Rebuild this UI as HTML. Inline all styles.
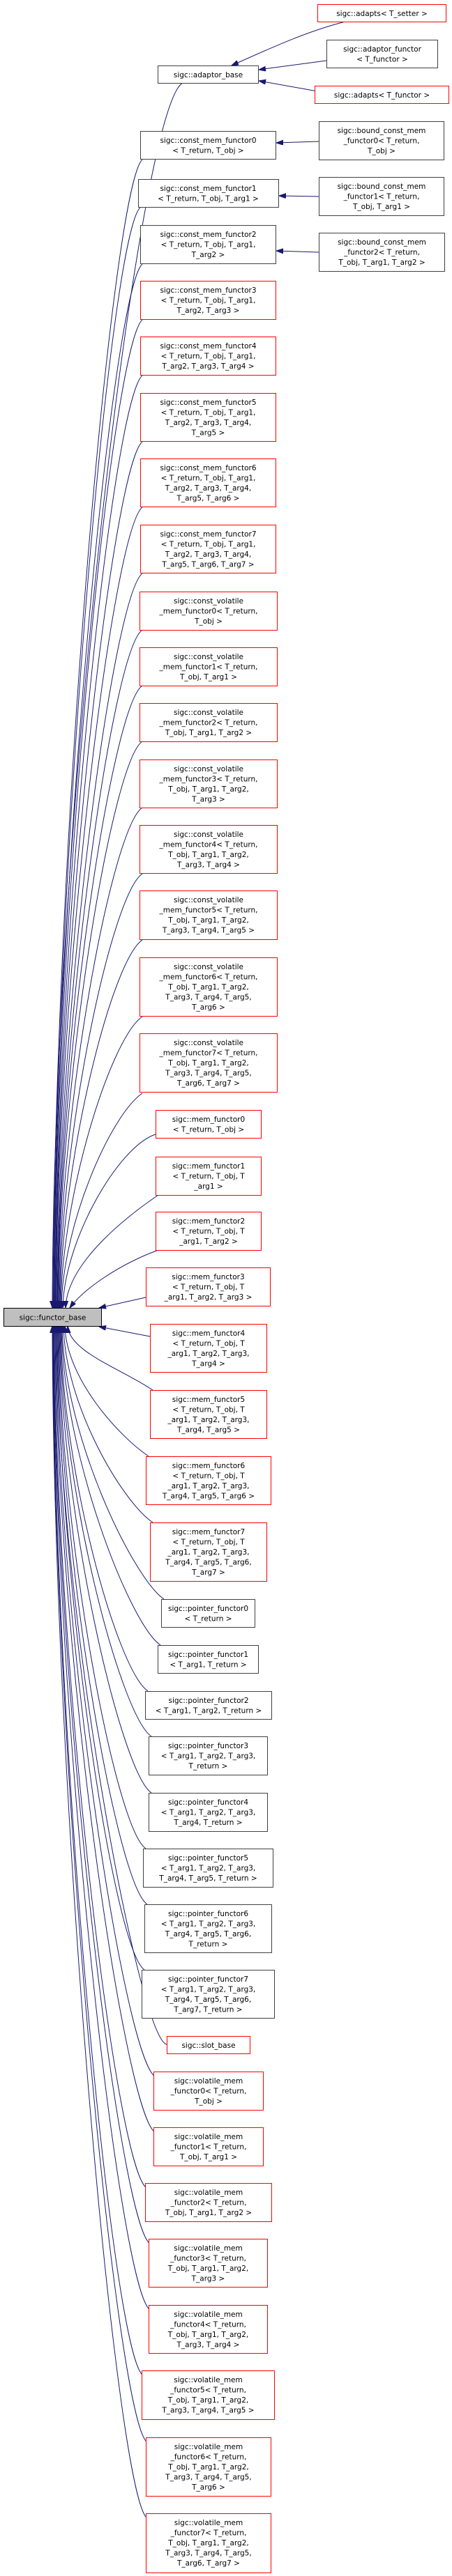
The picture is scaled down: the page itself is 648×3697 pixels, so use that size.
<!DOCTYPE html>
<html><head><meta charset="utf-8">
<style>
html,body{margin:0;padding:0;background:#fff;}
svg{display:block;}
text{font-family:"DejaVu Sans","Liberation Sans",sans-serif;font-size:10.5px;fill:#000;text-anchor:middle;}
.r{fill:#fff;stroke:#ff0000;stroke-width:1;}
.b{fill:#fff;stroke:#404040;stroke-width:1;}
.e{fill:none;stroke:#191970;stroke-width:1;marker-end:url(#ah);}
</style></head><body>
<svg width="648" height="3697" viewBox="0 0 648 3697" xmlns="http://www.w3.org/2000/svg">
<defs><marker id="ah" markerUnits="userSpaceOnUse" markerWidth="11" markerHeight="8" refX="10" refY="3.5" orient="auto"><path d="M0,0 L10,3.5 L0,7 z" fill="#191970" stroke="#191970"/></marker></defs>

<!-- edges -->
<path class="e" d="M495,31 C440,45 390,68 332,94"/>
<path class="e" d="M468,87 L371,100"/>
<path class="e" d="M455,131 L371,116"/>
<path class="e" d="M457,203 L396,205"/>
<path class="e" d="M457,282 L400,281"/>
<path class="e" d="M457,362 L396,360"/>

<path class="e" d="M262,119 C200,150 77,1174 75,1877"/>
<path class="e" d="M205,228 C161,258 78,1217 76,1877"/>
<path class="e" d="M202,297 C158,327 79,1245 77,1877"/>
<path class="e" d="M205,378 C161,408 79.5,1277 77.5,1877"/>
<path class="e" d="M205,458 C161,488 80,1309 78,1877"/>
<path class="e" d="M205,538 C161,568 81,1341 79,1877"/>
<path class="e" d="M205,633 C161,663 81.5,1379 79.5,1877"/>
<path class="e" d="M205,727 C161,757 82,1417 80,1877"/>
<path class="e" d="M205,822 C161,852 83,1455 81,1877"/>
<path class="e" d="M204,904 C160,934 84,1488 82,1877"/>
<path class="e" d="M204,984 C160,1014 84.5,1520 82.5,1877"/>
<path class="e" d="M204,1064 C160,1094 85,1552 83,1877"/>
<path class="e" d="M204,1159 C160,1189 86,1590 84,1877"/>
<path class="e" d="M204,1254 C160,1284 87,1628 85,1877"/>
<path class="e" d="M204,1349 C160,1379 88,1666 86,1877"/>
<path class="e" d="M204,1459 C160,1489 89,1710 87,1877"/>
<path class="e" d="M204,1569 C160,1599 90,1754 88,1877"/>
<path class="e" d="M223,1628 C170,1645 92,1780 90,1877"/>
<path class="e" d="M227,1715 C183,1745 96,1812 94,1877"/>
<path class="e" d="M227,1794 C170,1815 120,1850 100,1877"/>
<path class="e" d="M209,1862 L142,1877"/>

<path class="e" d="M215,1918 L142,1904"/>
<path class="e" d="M219,1995 C175,1965 99,1940 97,1903"/>
<path class="e" d="M213,2090 C169,2060 95,1978 93,1903"/>
<path class="e" d="M219,2185 C175,2155 93,2016 91,1903"/>
<path class="e" d="M235,2295 C191,2265 91,2060 89,1903"/>
<path class="e" d="M230,2361 C186,2331 90,2086 88,1903"/>
<path class="e" d="M212,2427 C168,2397 89,2113 87,1903"/>
<path class="e" d="M217,2492 C173,2462 88,2139 86,1903"/>
<path class="e" d="M217,2573 C173,2543 87,2171 85,1903"/>
<path class="e" d="M209,2653 C165,2623 86,2203 84,1903"/>
<path class="e" d="M211,2733 C167,2703 85,2235 83,1903"/>
<path class="e" d="M207,2827 C163,2797 84,2273 82,1903"/>
<path class="e" d="M239,2934 C200,2928 83,2315 81,1903"/>
<path class="e" d="M222,2980 C178,2950 82,2331 80,1903"/>
<path class="e" d="M222,3060 C178,3030 81,2363 79,1903"/>
<path class="e" d="M210,3140 C166,3110 80,2395 78,1903"/>
<path class="e" d="M215,3220 C171,3190 79,2427 77,1903"/>
<path class="e" d="M215,3315 C171,3285 78.5,2465 76.5,1903"/>
<path class="e" d="M205,3409 C161,3379 78,2503 76,1903"/>
<path class="e" d="M211,3505 C167,3475 77.5,2541 75.5,1903"/>
<path class="e" d="M211,3614 C167,3584 77,2585 75,1903"/>

<!-- functor_base -->
<rect x="5.5" y="1877.5" width="140" height="26" fill="#bfbfbf" stroke="#000"/>
<text x="75.5" y="1894.5">sigc::functor_base</text>

<!-- right column -->
<rect class="r" x="455.5" y="6.5" width="184" height="25"/>
<text x="547.5" y="23">sigc::adapts&lt; T_setter &gt;</text>
<rect class="b" x="468.5" y="57.5" width="159" height="40"/>
<text x="548" y="74"><tspan x="548">sigc::adaptor_functor</tspan><tspan x="548" dy="14.5">&lt; T_functor &gt;</tspan></text>
<rect class="r" x="451.5" y="123.5" width="192" height="25"/>
<text x="547.5" y="140">sigc::adapts&lt; T_functor &gt;</text>
<rect class="b" x="457.5" y="174.5" width="179" height="55"/>
<text x="547" y="191"><tspan x="547">sigc::bound_const_mem</tspan><tspan x="547" dy="14.5">_functor0&lt; T_return,</tspan><tspan x="547" dy="14.5">T_obj &gt;</tspan></text>
<rect class="b" x="457.5" y="254.5" width="179" height="55"/>
<text x="547" y="271"><tspan x="547">sigc::bound_const_mem</tspan><tspan x="547" dy="14.5">_functor1&lt; T_return,</tspan><tspan x="547" dy="14.5">T_obj, T_arg1 &gt;</tspan></text>
<rect class="b" x="457.5" y="334.5" width="180" height="55"/>
<text x="547.5" y="351"><tspan x="547.5">sigc::bound_const_mem</tspan><tspan x="547.5" dy="14.5">_functor2&lt; T_return,</tspan><tspan x="547.5" dy="14.5">T_obj, T_arg1, T_arg2 &gt;</tspan></text>

<!-- middle column -->
<rect class="b" x="226.5" y="94.5" width="144" height="25"/>
<text x="298.5" y="111">sigc::adaptor_base</text>

<rect class="b" x="201.5" y="188.5" width="194" height="40"/>
<text x="298.5" y="205"><tspan x="298.5">sigc::const_mem_functor0</tspan><tspan x="298.5" dy="14.5">&lt; T_return, T_obj &gt;</tspan></text>
<rect class="b" x="198.5" y="257.5" width="201" height="40"/>
<text x="298.5" y="274"><tspan x="298.5">sigc::const_mem_functor1</tspan><tspan x="298.5" dy="14.5">&lt; T_return, T_obj, T_arg1 &gt;</tspan></text>
<rect class="b" x="201.5" y="323.5" width="194" height="55"/>
<text x="298.5" y="340"><tspan x="298.5">sigc::const_mem_functor2</tspan><tspan x="298.5" dy="14.5">&lt; T_return, T_obj, T_arg1,</tspan><tspan x="298.5" dy="14.5">T_arg2 &gt;</tspan></text>
<rect class="r" x="201.5" y="403.5" width="194" height="55"/>
<text x="298.5" y="420"><tspan x="298.5">sigc::const_mem_functor3</tspan><tspan x="298.5" dy="14.5">&lt; T_return, T_obj, T_arg1,</tspan><tspan x="298.5" dy="14.5">T_arg2, T_arg3 &gt;</tspan></text>
<rect class="r" x="201.5" y="483.5" width="194" height="55"/>
<text x="298.5" y="500"><tspan x="298.5">sigc::const_mem_functor4</tspan><tspan x="298.5" dy="14.5">&lt; T_return, T_obj, T_arg1,</tspan><tspan x="298.5" dy="14.5">T_arg2, T_arg3, T_arg4 &gt;</tspan></text>
<rect class="r" x="201.5" y="564.5" width="194" height="69"/>
<text x="298.5" y="581"><tspan x="298.5">sigc::const_mem_functor5</tspan><tspan x="298.5" dy="14.5">&lt; T_return, T_obj, T_arg1,</tspan><tspan x="298.5" dy="14.5">T_arg2, T_arg3, T_arg4,</tspan><tspan x="298.5" dy="14.5">T_arg5 &gt;</tspan></text>
<rect class="r" x="201.5" y="658.5" width="194" height="69"/>
<text x="298.5" y="675"><tspan x="298.5">sigc::const_mem_functor6</tspan><tspan x="298.5" dy="14.5">&lt; T_return, T_obj, T_arg1,</tspan><tspan x="298.5" dy="14.5">T_arg2, T_arg3, T_arg4,</tspan><tspan x="298.5" dy="14.5">T_arg5, T_arg6 &gt;</tspan></text>
<rect class="r" x="201.5" y="753.5" width="194" height="69"/>
<text x="298.5" y="770"><tspan x="298.5">sigc::const_mem_functor7</tspan><tspan x="298.5" dy="14.5">&lt; T_return, T_obj, T_arg1,</tspan><tspan x="298.5" dy="14.5">T_arg2, T_arg3, T_arg4,</tspan><tspan x="298.5" dy="14.5">T_arg5, T_arg6, T_arg7 &gt;</tspan></text>

<rect class="r" x="200.5" y="849.5" width="197" height="55"/>
<text x="299" y="866"><tspan x="299">sigc::const_volatile</tspan><tspan x="299" dy="14.5">_mem_functor0&lt; T_return,</tspan><tspan x="299" dy="14.5">T_obj &gt;</tspan></text>
<rect class="r" x="200.5" y="929.5" width="197" height="55"/>
<text x="299" y="946"><tspan x="299">sigc::const_volatile</tspan><tspan x="299" dy="14.5">_mem_functor1&lt; T_return,</tspan><tspan x="299" dy="14.5">T_obj, T_arg1 &gt;</tspan></text>
<rect class="r" x="200.5" y="1009.5" width="197" height="55"/>
<text x="299" y="1026"><tspan x="299">sigc::const_volatile</tspan><tspan x="299" dy="14.5">_mem_functor2&lt; T_return,</tspan><tspan x="299" dy="14.5">T_obj, T_arg1, T_arg2 &gt;</tspan></text>
<rect class="r" x="200.5" y="1090.5" width="197" height="69"/>
<text x="299" y="1107"><tspan x="299">sigc::const_volatile</tspan><tspan x="299" dy="14.5">_mem_functor3&lt; T_return,</tspan><tspan x="299" dy="14.5">T_obj, T_arg1, T_arg2,</tspan><tspan x="299" dy="14.5">T_arg3 &gt;</tspan></text>
<rect class="r" x="200.5" y="1184.5" width="197" height="69"/>
<text x="299" y="1201"><tspan x="299">sigc::const_volatile</tspan><tspan x="299" dy="14.5">_mem_functor4&lt; T_return,</tspan><tspan x="299" dy="14.5">T_obj, T_arg1, T_arg2,</tspan><tspan x="299" dy="14.5">T_arg3, T_arg4 &gt;</tspan></text>
<rect class="r" x="200.5" y="1278.5" width="197" height="70"/>
<text x="299" y="1295"><tspan x="299">sigc::const_volatile</tspan><tspan x="299" dy="14.5">_mem_functor5&lt; T_return,</tspan><tspan x="299" dy="14.5">T_obj, T_arg1, T_arg2,</tspan><tspan x="299" dy="14.5">T_arg3, T_arg4, T_arg5 &gt;</tspan></text>
<rect class="r" x="200.5" y="1374.5" width="197" height="84"/>
<text x="299" y="1391"><tspan x="299">sigc::const_volatile</tspan><tspan x="299" dy="14.5">_mem_functor6&lt; T_return,</tspan><tspan x="299" dy="14.5">T_obj, T_arg1, T_arg2,</tspan><tspan x="299" dy="14.5">T_arg3, T_arg4, T_arg5,</tspan><tspan x="299" dy="14.5">T_arg6 &gt;</tspan></text>
<rect class="r" x="200.5" y="1483.5" width="197" height="84"/>
<text x="299" y="1500"><tspan x="299">sigc::const_volatile</tspan><tspan x="299" dy="14.5">_mem_functor7&lt; T_return,</tspan><tspan x="299" dy="14.5">T_obj, T_arg1, T_arg2,</tspan><tspan x="299" dy="14.5">T_arg3, T_arg4, T_arg5,</tspan><tspan x="299" dy="14.5">T_arg6, T_arg7 &gt;</tspan></text>

<rect class="r" x="223.5" y="1593.5" width="151" height="40"/>
<text x="299" y="1610"><tspan x="299">sigc::mem_functor0</tspan><tspan x="299" dy="14.5">&lt; T_return, T_obj &gt;</tspan></text>
<rect class="r" x="223.5" y="1660.5" width="151" height="55"/>
<text x="299" y="1677"><tspan x="299">sigc::mem_functor1</tspan><tspan x="299" dy="14.5">&lt; T_return, T_obj, T</tspan><tspan x="299" dy="14.5">_arg1 &gt;</tspan></text>
<rect class="r" x="223.5" y="1739.5" width="151" height="55"/>
<text x="299" y="1756"><tspan x="299">sigc::mem_functor2</tspan><tspan x="299" dy="14.5">&lt; T_return, T_obj, T</tspan><tspan x="299" dy="14.5">_arg1, T_arg2 &gt;</tspan></text>
<rect class="r" x="209.5" y="1819.5" width="178" height="55"/>
<text x="298.5" y="1836"><tspan x="298.5">sigc::mem_functor3</tspan><tspan x="298.5" dy="14.5">&lt; T_return, T_obj, T</tspan><tspan x="298.5" dy="14.5">_arg1, T_arg2, T_arg3 &gt;</tspan></text>
<rect class="r" x="215.5" y="1900.5" width="167" height="69"/>
<text x="299" y="1917"><tspan x="299">sigc::mem_functor4</tspan><tspan x="299" dy="14.5">&lt; T_return, T_obj, T</tspan><tspan x="299" dy="14.5">_arg1, T_arg2, T_arg3,</tspan><tspan x="299" dy="14.5">T_arg4 &gt;</tspan></text>
<rect class="r" x="215.5" y="1995.5" width="167" height="69"/>
<text x="299" y="2012"><tspan x="299">sigc::mem_functor5</tspan><tspan x="299" dy="14.5">&lt; T_return, T_obj, T</tspan><tspan x="299" dy="14.5">_arg1, T_arg2, T_arg3,</tspan><tspan x="299" dy="14.5">T_arg4, T_arg5 &gt;</tspan></text>
<rect class="r" x="209.5" y="2090.5" width="179" height="69"/>
<text x="299" y="2107"><tspan x="299">sigc::mem_functor6</tspan><tspan x="299" dy="14.5">&lt; T_return, T_obj, T</tspan><tspan x="299" dy="14.5">_arg1, T_arg2, T_arg3,</tspan><tspan x="299" dy="14.5">T_arg4, T_arg5, T_arg6 &gt;</tspan></text>
<rect class="r" x="215.5" y="2185.5" width="167" height="84"/>
<text x="299" y="2202"><tspan x="299">sigc::mem_functor7</tspan><tspan x="299" dy="14.5">&lt; T_return, T_obj, T</tspan><tspan x="299" dy="14.5">_arg1, T_arg2, T_arg3,</tspan><tspan x="299" dy="14.5">T_arg4, T_arg5, T_arg6,</tspan><tspan x="299" dy="14.5">T_arg7 &gt;</tspan></text>

<rect class="b" x="231.5" y="2295.5" width="134" height="40"/>
<text x="298.5" y="2312"><tspan x="298.5">sigc::pointer_functor0</tspan><tspan x="298.5" dy="14.5">&lt; T_return &gt;</tspan></text>
<rect class="b" x="226.5" y="2361.5" width="144" height="40"/>
<text x="298.5" y="2378"><tspan x="298.5">sigc::pointer_functor1</tspan><tspan x="298.5" dy="14.5">&lt; T_arg1, T_return &gt;</tspan></text>
<rect class="b" x="208.5" y="2427.5" width="181" height="40"/>
<text x="299" y="2444"><tspan x="299">sigc::pointer_functor2</tspan><tspan x="299" dy="14.5">&lt; T_arg1, T_arg2, T_return &gt;</tspan></text>
<rect class="b" x="213.5" y="2492.5" width="170" height="55"/>
<text x="298.5" y="2509"><tspan x="298.5">sigc::pointer_functor3</tspan><tspan x="298.5" dy="14.5">&lt; T_arg1, T_arg2, T_arg3,</tspan><tspan x="298.5" dy="14.5">T_return &gt;</tspan></text>
<rect class="b" x="213.5" y="2573.5" width="170" height="55"/>
<text x="298.5" y="2590"><tspan x="298.5">sigc::pointer_functor4</tspan><tspan x="298.5" dy="14.5">&lt; T_arg1, T_arg2, T_arg3,</tspan><tspan x="298.5" dy="14.5">T_arg4, T_return &gt;</tspan></text>
<rect class="b" x="205.5" y="2653.5" width="186" height="55"/>
<text x="298.5" y="2670"><tspan x="298.5">sigc::pointer_functor5</tspan><tspan x="298.5" dy="14.5">&lt; T_arg1, T_arg2, T_arg3,</tspan><tspan x="298.5" dy="14.5">T_arg4, T_arg5, T_return &gt;</tspan></text>
<rect class="b" x="207.5" y="2733.5" width="182" height="69"/>
<text x="298.5" y="2750"><tspan x="298.5">sigc::pointer_functor6</tspan><tspan x="298.5" dy="14.5">&lt; T_arg1, T_arg2, T_arg3,</tspan><tspan x="298.5" dy="14.5">T_arg4, T_arg5, T_arg6,</tspan><tspan x="298.5" dy="14.5">T_return &gt;</tspan></text>
<rect class="b" x="203.5" y="2827.5" width="190" height="69"/>
<text x="298.5" y="2844"><tspan x="298.5">sigc::pointer_functor7</tspan><tspan x="298.5" dy="14.5">&lt; T_arg1, T_arg2, T_arg3,</tspan><tspan x="298.5" dy="14.5">T_arg4, T_arg5, T_arg6,</tspan><tspan x="298.5" dy="14.5">T_arg7, T_return &gt;</tspan></text>

<rect class="r" x="239.5" y="2922.5" width="119" height="25"/>
<text x="299" y="2939">sigc::slot_base</text>

<rect class="r" x="220.5" y="2973.5" width="157" height="55"/>
<text x="299" y="2990"><tspan x="299">sigc::volatile_mem</tspan><tspan x="299" dy="14.5">_functor0&lt; T_return,</tspan><tspan x="299" dy="14.5">T_obj &gt;</tspan></text>
<rect class="r" x="220.5" y="3053.5" width="157" height="55"/>
<text x="299" y="3070"><tspan x="299">sigc::volatile_mem</tspan><tspan x="299" dy="14.5">_functor1&lt; T_return,</tspan><tspan x="299" dy="14.5">T_obj, T_arg1 &gt;</tspan></text>
<rect class="r" x="208.5" y="3133.5" width="181" height="55"/>
<text x="299" y="3150"><tspan x="299">sigc::volatile_mem</tspan><tspan x="299" dy="14.5">_functor2&lt; T_return,</tspan><tspan x="299" dy="14.5">T_obj, T_arg1, T_arg2 &gt;</tspan></text>
<rect class="r" x="213.5" y="3213.5" width="170" height="69"/>
<text x="298.5" y="3230"><tspan x="298.5">sigc::volatile_mem</tspan><tspan x="298.5" dy="14.5">_functor3&lt; T_return,</tspan><tspan x="298.5" dy="14.5">T_obj, T_arg1, T_arg2,</tspan><tspan x="298.5" dy="14.5">T_arg3 &gt;</tspan></text>
<rect class="r" x="213.5" y="3308.5" width="170" height="69"/>
<text x="298.5" y="3325"><tspan x="298.5">sigc::volatile_mem</tspan><tspan x="298.5" dy="14.5">_functor4&lt; T_return,</tspan><tspan x="298.5" dy="14.5">T_obj, T_arg1, T_arg2,</tspan><tspan x="298.5" dy="14.5">T_arg3, T_arg4 &gt;</tspan></text>
<rect class="r" x="203.5" y="3402.5" width="190" height="70"/>
<text x="298.5" y="3419"><tspan x="298.5">sigc::volatile_mem</tspan><tspan x="298.5" dy="14.5">_functor5&lt; T_return,</tspan><tspan x="298.5" dy="14.5">T_obj, T_arg1, T_arg2,</tspan><tspan x="298.5" dy="14.5">T_arg3, T_arg4, T_arg5 &gt;</tspan></text>
<rect class="r" x="209.5" y="3498.5" width="179" height="84"/>
<text x="299" y="3515"><tspan x="299">sigc::volatile_mem</tspan><tspan x="299" dy="14.5">_functor6&lt; T_return,</tspan><tspan x="299" dy="14.5">T_obj, T_arg1, T_arg2,</tspan><tspan x="299" dy="14.5">T_arg3, T_arg4, T_arg5,</tspan><tspan x="299" dy="14.5">T_arg6 &gt;</tspan></text>
<rect class="r" x="209.5" y="3607.5" width="179" height="85"/>
<text x="299" y="3624"><tspan x="299">sigc::volatile_mem</tspan><tspan x="299" dy="14.5">_functor7&lt; T_return,</tspan><tspan x="299" dy="14.5">T_obj, T_arg1, T_arg2,</tspan><tspan x="299" dy="14.5">T_arg3, T_arg4, T_arg5,</tspan><tspan x="299" dy="14.5">T_arg6, T_arg7 &gt;</tspan></text>
</svg>
</body></html>
